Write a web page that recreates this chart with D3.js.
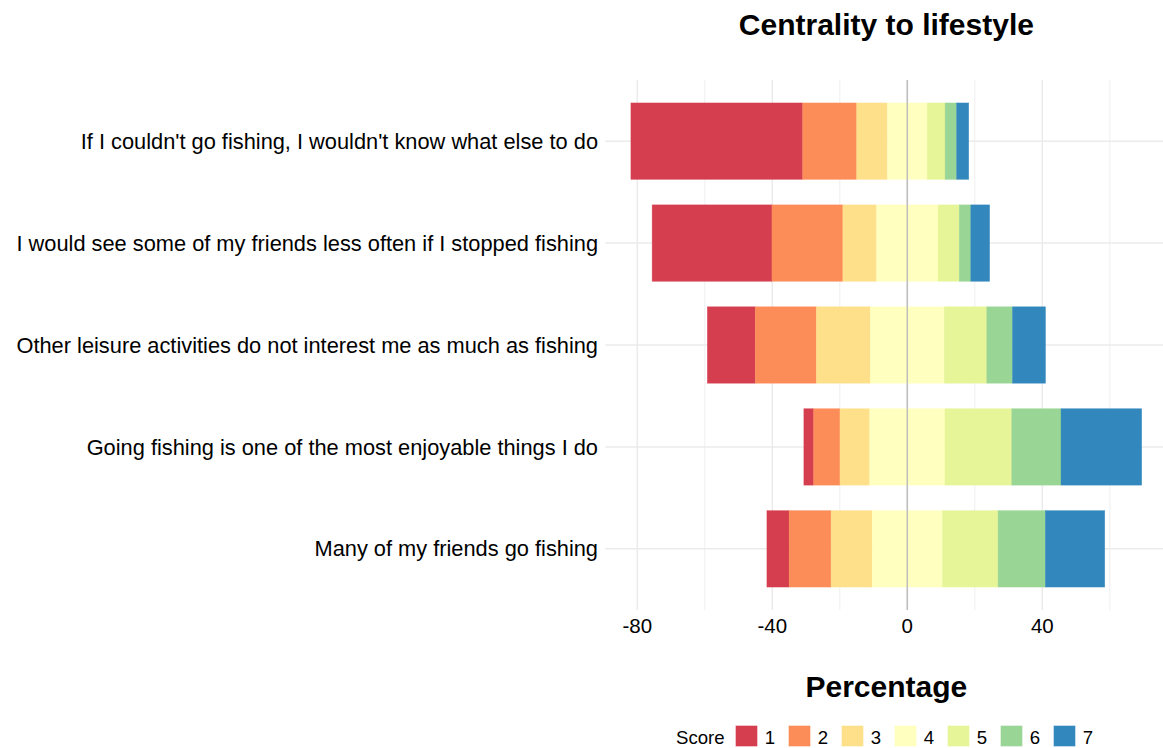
<!DOCTYPE html>
<html>
<head>
    <meta charset="utf-8">
    <title>Centrality to lifestyle</title>
    <script src="https://cdn.jsdelivr.net/npm/d3@7"></script>
    <style>
        body { margin: 0; background: #fff; }
        text { font-family: "Liberation Sans", Arial, sans-serif; }
        .grid line { stroke: #ebebeb; }
    </style>
</head>
<body>
<script>
    // statements, top to bottom
    var items = [
        "If I couldn't go fishing, I wouldn't know what else to do",
        "I would see some of my friends less often if I stopped fishing",
        "Other leisure activities do not interest me as much as fishing",
        "Going fishing is one of the most enjoyable things I do",
        "Many of my friends go fishing"
    ];
    var scores = ["1", "2", "3", "4", "5", "6", "7"];
    // percentage per score, one array per statement
    var pct = [
        [50.9, 16.0, 9.1, 11.8, 5.3, 3.4, 3.6],
        [35.5, 21.0, 10.0, 18.2, 6.3, 3.4, 5.6],
        [14.2, 18.1, 16.0, 21.9, 12.6, 7.6, 9.8],
        [2.9, 7.8, 8.8, 22.3, 19.8, 14.6, 23.9],
        [6.6, 12.4, 12.2, 20.8, 16.5, 14.0, 17.6]
    ];
    var xTicks = [-80, -40, 0, 40];
    var xMinor = [-60, -20, 20, 60];

    var width = 1163, height = 748;
    var color = d3.scaleOrdinal().domain(scores).range(d3.schemeSpectral[7]);

    var x = d3.scaleLinear().domain([-80, 40]).range([637.3, 1042.3]);
    var panelLeft = x(-89.5), panelRight = x(77.1);
    // ggplot style: category centers spaced evenly with 0.6 expansion
    var step = (610 - 80) / (items.length - 1 + 1.2);
    var yc = function (d) { return 80 + step * (0.6 + items.indexOf(d)); };
    var barH = step * 0.75;

    var svg = d3.select("body").append("svg")
        .attr("width", width).attr("height", height);

    var grid = svg.append("g").attr("class", "grid");
    grid.selectAll(".minor").data(xMinor).enter().append("line")
        .attr("x1", x).attr("x2", x).attr("y1", 80).attr("y2", 610)
        .attr("stroke-width", 0.8);
    grid.selectAll(".major").data(xTicks).enter().append("line")
        .attr("x1", x).attr("x2", x).attr("y1", 80).attr("y2", 610)
        .attr("stroke-width", 1.5);
    grid.selectAll(".hmajor").data(items).enter().append("line")
        .attr("x1", panelLeft).attr("x2", panelRight)
        .attr("y1", yc).attr("y2", yc)
        .attr("stroke-width", 1.5);

    // build diverging segments
    var segs = [];
    pct.forEach(function (row, i) {
        var start = -(row[0] + row[1] + row[2] + row[3] / 2);
        row.forEach(function (v, j) {
            segs.push({item: items[i], score: scores[j], x0: start, x1: start + v});
            start += v;
        });
    });

    svg.append("g").selectAll("rect").data(segs).enter().append("rect")
        .attr("x", function (d) { return x(d.x0); })
        .attr("width", function (d) { return x(d.x1) - x(d.x0); })
        .attr("y", function (d) { return yc(d.item) - barH / 2; })
        .attr("height", barH)
        .attr("fill", function (d) { return color(d.score); })
        .attr("stroke", function (d) { return color(d.score); })
        .attr("stroke-width", 0.6)
        .attr("stroke-opacity", 0.6);

    // zero line
    svg.append("line")
        .attr("x1", x(0)).attr("x2", x(0)).attr("y1", 80).attr("y2", 610)
        .attr("stroke", "#bdbdbd").attr("stroke-width", 1.5);

    // category labels
    svg.append("g").selectAll("text").data(items).enter().append("text")
        .attr("x", 598).attr("y", yc).attr("dy", "0.35em")
        .attr("text-anchor", "end").attr("font-size", 21.8).attr("fill", "#000")
        .text(function (d) { return d; });

    // x tick labels
    svg.append("g").selectAll("text").data(xTicks).enter().append("text")
        .attr("x", x).attr("y", 626).attr("dy", "0.35em")
        .attr("text-anchor", "middle").attr("font-size", 20.5).attr("fill", "#000")
        .text(function (d) { return d; });

    var mid = (panelLeft + panelRight) / 2;
    svg.append("text").attr("x", mid).attr("y", 24).attr("dy", "0.35em")
        .attr("text-anchor", "middle").attr("font-size", 30).attr("font-weight", "bold")
        .text("Centrality to lifestyle");
    svg.append("text").attr("x", mid).attr("y", 686).attr("dy", "0.35em")
        .attr("text-anchor", "middle").attr("font-size", 30).attr("font-weight", "bold")
        .text("Percentage");

    // legend
    var leg = svg.append("g");
    leg.append("text").attr("x", 676).attr("y", 737).attr("dy", "0.35em")
        .attr("font-size", 18.6).attr("fill", "#000").text("Score");
    var li = leg.selectAll(".key").data(scores).enter().append("g")
        .attr("transform", function (d, i) { return "translate(" + (736 + i * 53) + ",726)"; });
    li.append("rect").attr("width", 21).attr("height", 20)
        .attr("fill", function (d) { return color(d); })
        .attr("stroke", function (d) { return color(d); }).attr("stroke-opacity", 0.6);
    li.append("text").attr("x", 34).attr("y", 11).attr("dy", "0.35em")
        .attr("text-anchor", "middle").attr("font-size", 18.6).attr("fill", "#000")
        .text(function (d) { return d; });
</script>
</body>
</html>
